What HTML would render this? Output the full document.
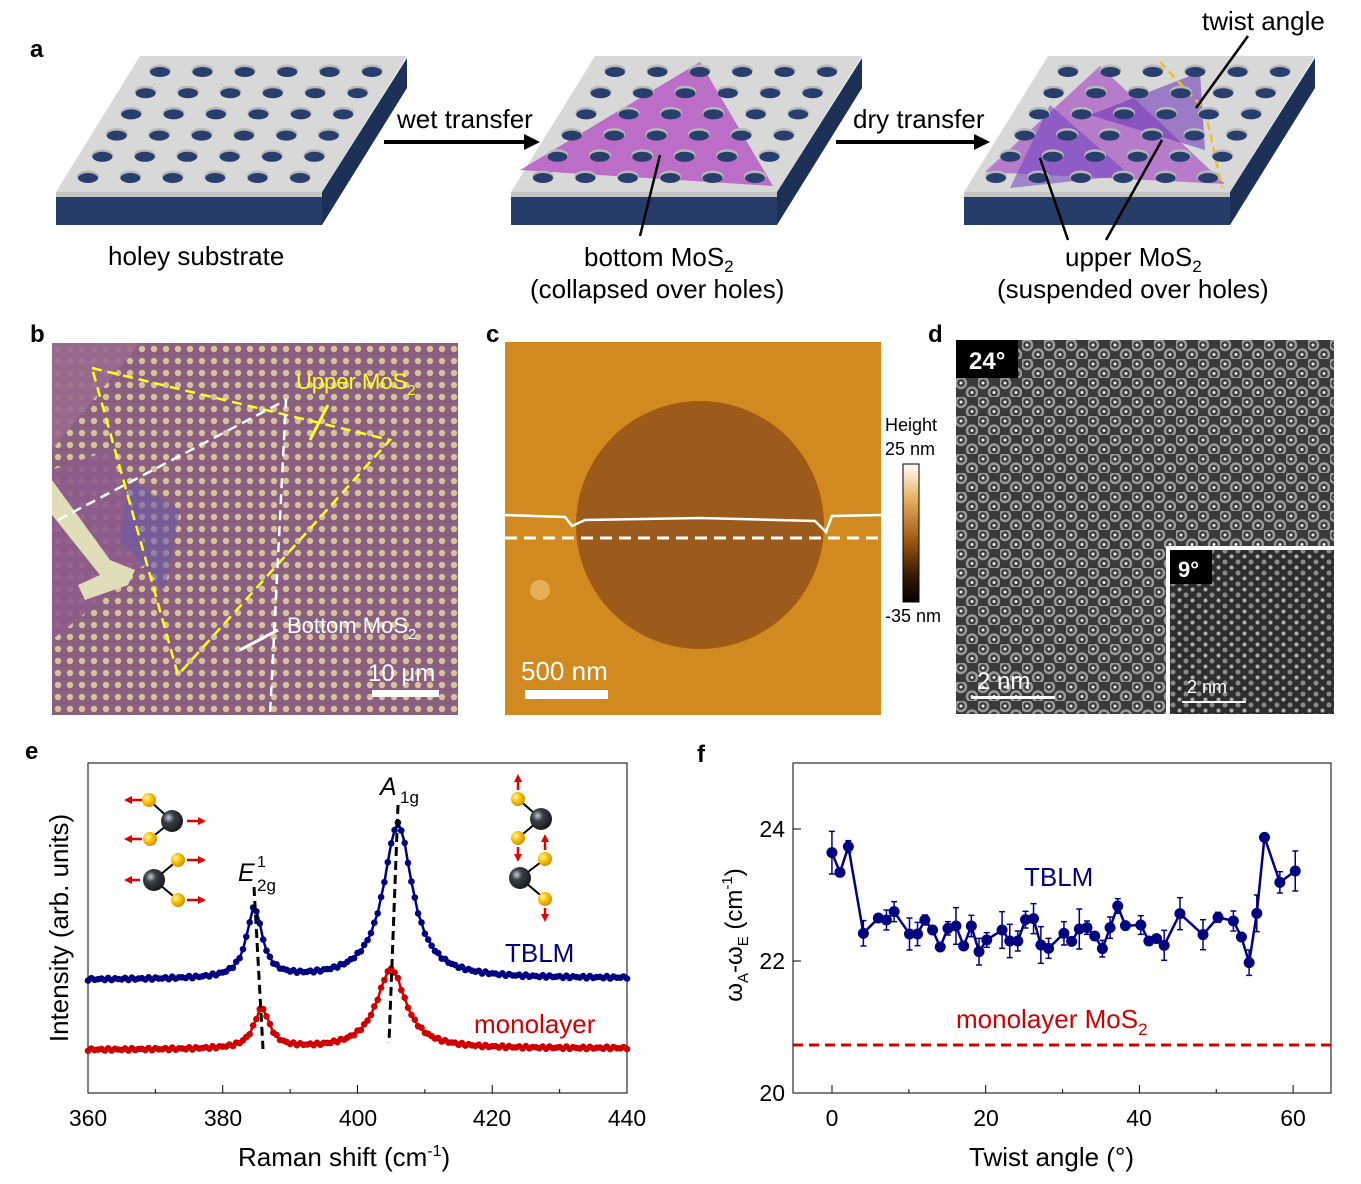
<!DOCTYPE html>
<html><head><meta charset="utf-8">
<style>
html,body{margin:0;padding:0;background:#fff;}
svg{display:block;font-family:"Liberation Sans",sans-serif;}
</style></head><body>
<svg id="s" width="1361" height="1184" viewBox="0 0 1361 1184" xmlns="http://www.w3.org/2000/svg">
<defs>
<radialGradient id="gy" cx="0.35" cy="0.35" r="0.7"><stop offset="0" stop-color="#fff3a0"/><stop offset="0.5" stop-color="#f8c000"/><stop offset="1" stop-color="#d08a00"/></radialGradient>
<radialGradient id="gk" cx="0.35" cy="0.35" r="0.7"><stop offset="0" stop-color="#c8ccd4"/><stop offset="0.35" stop-color="#3a3f48"/><stop offset="1" stop-color="#15181c"/></radialGradient>
<linearGradient id="cb" x1="0" y1="0" x2="0" y2="1"><stop offset="0" stop-color="#ffffff"/><stop offset="0.25" stop-color="#e8b060"/><stop offset="0.55" stop-color="#a05a10"/><stop offset="0.8" stop-color="#3a1a00"/><stop offset="1" stop-color="#000"/></linearGradient>
<pattern id="pb" x="52" y="343" width="12" height="12" patternUnits="userSpaceOnUse"><rect width="12" height="12" fill="#8a5f80"/><circle cx="6" cy="6" r="3.2" fill="#d8c49a"/></pattern>
<pattern id="pd" x="956" y="340" width="22" height="19" patternUnits="userSpaceOnUse"><rect width="22" height="19" fill="#3a3a3a"/><circle cx="5" cy="5" r="5" fill="none" stroke="#9a9a9a" stroke-width="2.5"/><circle cx="16" cy="14.5" r="5" fill="none" stroke="#9a9a9a" stroke-width="2.5"/><circle cx="5" cy="5" r="1.5" fill="#eee"/><circle cx="16" cy="14.5" r="1.5" fill="#eee"/></pattern>
<pattern id="pd2" x="1170" y="548" width="13" height="11" patternUnits="userSpaceOnUse"><rect width="13" height="11" fill="#2e2e2e"/><circle cx="3" cy="3" r="2.5" fill="#8a8a8a"/><circle cx="9.5" cy="8.5" r="2" fill="#b0b0b0"/></pattern>
</defs>
<g id="slabs"></g>
<!-- panel a text -->
<text x="30" y="57" font-size="24" font-weight="bold">a</text>
<text x="108" y="265" font-size="26">holey substrate</text>
<text x="397" y="128" font-size="26">wet transfer</text>
<line x1="384" y1="142" x2="528" y2="142" stroke="#000" stroke-width="4"/><polygon points="540,142 524,134 524,150" fill="#000"/>
<text x="853" y="128" font-size="26">dry transfer</text>
<line x1="836" y1="142" x2="978" y2="142" stroke="#000" stroke-width="4"/><polygon points="990,142 974,134 974,150" fill="#000"/>
<text x="584" y="266" font-size="26">bottom MoS<tspan font-size="17" dy="6">2</tspan></text>
<text x="530" y="298" font-size="26">(collapsed over holes)</text>
<text x="1065" y="266" font-size="26">upper MoS<tspan font-size="17" dy="6">2</tspan></text>
<text x="997" y="298" font-size="26">(suspended over holes)</text>
<text x="1202" y="30" font-size="26">twist angle</text>
<line x1="660" y1="155" x2="640" y2="236" stroke="#000" stroke-width="2.5"/>
<line x1="1040" y1="158" x2="1068" y2="240" stroke="#000" stroke-width="2.5"/>
<line x1="1162" y1="140" x2="1106" y2="240" stroke="#000" stroke-width="2.5"/>
<line x1="1248" y1="36" x2="1196" y2="108" stroke="#000" stroke-width="2.5"/>

<!-- panel b -->
<text x="30" y="342" font-size="24" font-weight="bold">b</text>
<rect x="52" y="343" width="406" height="372" fill="url(#pb)"/>
<polygon points="52,343 140,343 52,450" fill="#9a6a8e" opacity="0.9"/>
<polygon points="52,470 110,450 150,560 52,640" fill="#8e5c8c" opacity="0.9"/>
<polygon points="130,480 180,510 165,590 120,540" fill="#6a5aa8" opacity="0.6"/>
<path d="M52,480 L110,560 L135,570 L128,585 L85,600 L78,585 L100,575 L52,515 Z" fill="#e0ddb8"/>
<polygon points="92,368 390,440 178,675" fill="none" stroke="#ffff20" stroke-width="2.5" stroke-dasharray="10,6"/>
<polyline points="58,520 286,400 270,715" fill="none" stroke="#fff" stroke-width="2.5" stroke-dasharray="10,6"/>
<line x1="310" y1="440" x2="328" y2="405" stroke="#ffff20" stroke-width="3"/>
<line x1="240" y1="650" x2="278" y2="630" stroke="#fff" stroke-width="3"/>
<text x="296" y="389" font-size="22" fill="#ffff20">Upper MoS<tspan font-size="15" dy="6">2</tspan></text>
<text x="287" y="633" font-size="22" fill="#fff">Bottom MoS<tspan font-size="15" dy="6">2</tspan></text>
<text x="368" y="681" font-size="24" fill="#fff">10 μm</text>
<rect x="372" y="690" width="67" height="7" fill="#fff"/>

<!-- panel c -->
<text x="486" y="342" font-size="24" font-weight="bold">c</text>
<rect x="505" y="342" width="376" height="373" fill="#d08a20"/>
<circle cx="700" cy="525" r="124" fill="#a05a18"/>
<circle cx="700" cy="525" r="118" fill="#9a5a22" opacity="0.6"/>
<path d="M505,515 L565,517 L572,526 L585,520 L700,518 L815,521 L826,532 L832,516 L881,515" fill="none" stroke="#fff" stroke-width="2.5"/>
<line x1="505" y1="538" x2="881" y2="538" stroke="#fff" stroke-width="3" stroke-dasharray="12,7"/>
<circle cx="540" cy="590" r="10" fill="#f0c070" opacity="0.7"/>
<text x="521" y="680" font-size="26" fill="#fff">500 nm</text>
<rect x="525" y="690" width="83" height="9" fill="#fff"/>
<text x="885" y="431" font-size="18">Height</text>
<text x="885" y="455" font-size="18">25 nm</text>
<rect x="903" y="464" width="16" height="138" fill="url(#cb)" stroke="#000" stroke-width="1"/>
<text x="885" y="622" font-size="18">-35 nm</text>

<!-- panel d -->
<text x="928" y="342" font-size="24" font-weight="bold">d</text>
<rect x="956" y="340" width="378" height="374" fill="url(#pd)"/>
<rect x="956" y="340" width="62" height="38" fill="#000"/>
<text x="969" y="369" font-size="24" font-weight="bold" fill="#fff">24°</text>
<text x="977" y="689" font-size="24" fill="#fff">2 nm</text>
<rect x="971" y="696" width="84" height="3" fill="#fff"/>
<rect x="1166" y="546" width="170" height="170" fill="#fff"/>
<rect x="1170" y="550" width="164" height="164" fill="url(#pd2)"/>
<rect x="1170" y="550" width="42" height="34" fill="#000"/>
<text x="1178" y="577" font-size="22" font-weight="bold" fill="#fff">9°</text>
<text x="1187" y="693" font-size="18" fill="#fff">2 nm</text>
<rect x="1182" y="701" width="64" height="2" fill="#fff"/>

<!-- panel e -->
<text x="25" y="759" font-size="24" font-weight="bold">e</text>
<rect x="88" y="763" width="539" height="330" fill="none" stroke="#000" stroke-width="1"/>
<g id="eax"></g>
<g id="espec"></g>
<line x1="254" y1="887" x2="263" y2="1049" stroke="#000" stroke-width="3" stroke-dasharray="9,5"/>
<line x1="398" y1="805" x2="389" y2="1043" stroke="#000" stroke-width="3" stroke-dasharray="9,5"/>
<text x="238" y="881" font-size="25" font-style="italic">E</text>
<text x="257" y="867" font-size="16">1</text>
<text x="257" y="891" font-size="17">2g</text>
<text x="380" y="795" font-size="25" font-style="italic">A</text>
<text x="400" y="803" font-size="17">1g</text>
<text x="505" y="962" font-size="26" fill="#000080">TBLM</text>
<text x="474" y="1033" font-size="26" fill="#d00000">monolayer</text>
<g id="mol"></g>
<text x="88" y="1126" font-size="23" text-anchor="middle">360</text>
<text x="223" y="1126" font-size="23" text-anchor="middle">380</text>
<text x="358" y="1126" font-size="23" text-anchor="middle">400</text>
<text x="492" y="1126" font-size="23" text-anchor="middle">420</text>
<text x="627" y="1126" font-size="23" text-anchor="middle">440</text>
<text x="238" y="1166" font-size="26">Raman shift (cm<tspan font-size="16" dy="-10">-1</tspan><tspan dy="10">)</tspan></text>
<text transform="translate(68,928) rotate(-90)" font-size="26" text-anchor="middle">Intensity (arb. units)</text>

<!-- panel f -->
<text x="697" y="762" font-size="24" font-weight="bold">f</text>
<rect x="793" y="763" width="538" height="330" fill="none" stroke="#000" stroke-width="1"/>
<g id="fax"></g>
<line x1="793" y1="1045" x2="1331" y2="1045" stroke="#d00000" stroke-width="3" stroke-dasharray="10,6"/>
<text x="1024" y="886" font-size="26" fill="#000080">TBLM</text>
<text x="956" y="1028" font-size="26" fill="#d00000">monolayer MoS<tspan font-size="17" dy="7">2</tspan></text>
<g id="fdata"></g>
<text x="785" y="837" font-size="23" text-anchor="end">24</text>
<text x="785" y="969" font-size="23" text-anchor="end">22</text>
<text x="785" y="1101" font-size="23" text-anchor="end">20</text>
<text x="832" y="1126" font-size="23" text-anchor="middle">0</text>
<text x="986" y="1126" font-size="23" text-anchor="middle">20</text>
<text x="1139" y="1126" font-size="23" text-anchor="middle">40</text>
<text x="1293" y="1126" font-size="23" text-anchor="middle">60</text>
<text x="969" y="1166" font-size="26">Twist angle (°)</text>
<text transform="translate(742,935) rotate(-90)" font-size="24" text-anchor="middle">ω<tspan font-size="15" dy="6">A</tspan><tspan dy="-6">-ω</tspan><tspan font-size="15" dy="6">E</tspan><tspan dy="-6"> (cm</tspan><tspan font-size="15" dy="-10">-1</tspan><tspan dy="10">)</tspan></text>
</svg>
<script>
var NS="http://www.w3.org/2000/svg";
function el(p,t,a){var e=document.createElementNS(NS,t);for(var k in a)e.setAttribute(k,a[k]);document.getElementById(p).appendChild(e);return e;}
[0,455,908].forEach(function(o,i){
 el("slabs","polygon",{points:(56+o)+",192 "+(322+o)+",192 "+(322+o)+",225 "+(56+o)+",225",fill:"#263d6a"});
 el("slabs","polygon",{points:(322+o)+",192 "+(407+o)+",58 "+(407+o)+",88 "+(322+o)+",225",fill:"#1c3058"});
 el("slabs","polygon",{points:(140+o)+",56 "+(407+o)+",56 "+(322+o)+",192 "+(56+o)+",192",fill:"#d8d8d8"});
 el("slabs","polygon",{points:(56+o)+",192 "+(322+o)+",192 "+(322+o)+",197 "+(56+o)+",197",fill:"#c4c4c4"});
 if(i==1) el("slabs","polygon",{points:(700-455+o)+",62 "+(773-455+o)+",186 "+(520-455+o)+",170",fill:"#b040c0",opacity:0.7});
 if(i==2){
  el("slabs","polygon",{points:"1100,66 1225,184 985,172",fill:"#a040c0",opacity:0.6});
  el("slabs","polygon",{points:"1050,105 1130,175 1010,188",fill:"#7040c0",opacity:0.55});
  el("slabs","polygon",{points:"1090,115 1200,72 1205,150",fill:"#6a30b8",opacity:0.55});
  el("slabs","polyline",{points:"1160,62 1205,110 1222,188",fill:"none",stroke:"#f0c020","stroke-width":2.5,"stroke-dasharray":"8,5"});
 }
 for(var r=0;r<6;r++)for(var c=0;c<6;c++){
  var x=160+o+c*42.4-r*14.4, y=72+r*21.2;
  el("slabs","ellipse",{cx:x,cy:y-1.5,rx:11,ry:6,fill:"#b8b8b8"});
  el("slabs","ellipse",{cx:x,cy:y,rx:10,ry:5,fill:"#283f6e"});
 }
});
for(var v=360;v<=440;v+=10){var x=88+(v-360)*6.7375;el("eax","line",{x1:x,y1:1093,x2:x,y2:v%20==0?1085:1089,stroke:"#000"});}
function lor(x,x0,w){return 1/(1+Math.pow((x-x0)/w,2));}
function spec(base,e0,eh,a0,ah,col,id){
 var pts=[];
 for(var v=360;v<=440;v+=0.5){
  var y=base-eh*lor(v,e0,1.4)-ah*lor(v,a0,2.6)-(v-360)*0.02+(Math.sin(v*7.3)*1.2);
  pts.push((88+(v-360)*6.7375).toFixed(1)+","+y.toFixed(1));
 }
 el(id,"polyline",{points:pts.join(" "),fill:"none",stroke:col,"stroke-width":2.5});
 pts.forEach(function(p){var q=p.split(",");el(id,"circle",{cx:q[0],cy:q[1],r:3.3,fill:col});});
}
spec(980,384.7,70,406,155,"#000080","espec");
spec(1050,385.8,40,405,80,"#d00000","espec");
function mol(mx,my,ys){el("mol","line",{x1:mx,y1:my,x2:ys[0][0],y2:ys[0][1],stroke:"#000","stroke-width":2});el("mol","line",{x1:mx,y1:my,x2:ys[1][0],y2:ys[1][1],stroke:"#000","stroke-width":2});
 ys.forEach(function(p){el("mol","circle",{cx:p[0],cy:p[1],r:7,fill:"url(#gy)"});});el("mol","circle",{cx:mx,cy:my,r:11,fill:"url(#gk)"});}
function arr(x1,y1,x2,y2){el("mol","line",{x1:x1,y1:y1,x2:x2,y2:y2,stroke:"#e00000","stroke-width":2.5});var dx=x2-x1,dy=y2-y1,L=Math.hypot(dx,dy),ux=dx/L,uy=dy/L;
 el("mol","polygon",{points:(x2+ux*4)+","+(y2+uy*4)+" "+(x2-ux*4-uy*4)+","+(y2-uy*4+ux*4)+" "+(x2-ux*4+uy*4)+","+(y2-uy*4-ux*4),fill:"#e00000"});}
mol(172,821,[[149,800],[150,839]]);arr(142,800,128,800);arr(142,839,128,839);arr(187,821,202,821);
mol(154,880,[[178,860],[178,900]]);arr(187,860,202,860);arr(187,900,202,900);arr(140,880,128,880);
mol(541,819,[[518,799],[518,838]]);arr(518,790,518,778);arr(518,847,518,858);
mol(520,878,[[545,859],[545,899]]);arr(545,850,545,838);arr(545,908,545,918);
for(var v=0;v<=60;v+=10){var x=832+v*7.685;el("fax","line",{x1:x,y1:1093,x2:x,y2:v%20==0?1085:1089,stroke:"#000"});}
[829,961,1093].forEach(function(y){el("fax","line",{x1:793,y1:y,x2:801,y2:y,stroke:"#000"});});
var d=[[120,278,64],[143,337,0],[167,260,18],[210,520,38],[253,474,0],[276,480,30],[298,455,30],[342,522,48],[365,522,35],[386,480,15],[408,510,0],[430,561,0],[452,505,20],[475,498,55],[497,558,0],[519,498,32],[541,575,40],[563,540,22],[607,510,55],[629,543,50],[652,543,30],[674,479,25],[697,476,45],[718,555,55],[740,565,30],[784,520,35],[806,544,0],[828,507,60],[850,503,20],[872,528,0],[894,566,25],[916,503,32],[938,438,22],[960,497,0],[1004,495,28],[1027,543,0],[1049,536,10],[1071,556,45],[1116,461,48],[1182,524,45],[1225,472,15],[1269,483,30],[1292,531,0],[1314,608,38],[1336,460,55],[1358,232,0],[1402,367,32],[1446,333,60]];
var fp=d.map(function(p){return [(790+p[0]/2.862),(760+p[1]/3),p[2]/3];});
el("fdata","polyline",{points:fp.map(function(p){return p[0].toFixed(1)+","+p[1].toFixed(1);}).join(" "),fill:"none",stroke:"#000080","stroke-width":2.5});
fp.forEach(function(p){if(p[2]>0){el("fdata","line",{x1:p[0],y1:p[1]-p[2],x2:p[0],y2:p[1]+p[2],stroke:"#000080","stroke-width":1.5});
 el("fdata","line",{x1:p[0]-3,y1:p[1]-p[2],x2:p[0]+3,y2:p[1]-p[2],stroke:"#000080","stroke-width":1.5});el("fdata","line",{x1:p[0]-3,y1:p[1]+p[2],x2:p[0]+3,y2:p[1]+p[2],stroke:"#000080","stroke-width":1.5});}
 el("fdata","circle",{cx:p[0],cy:p[1],r:5.5,fill:"#000080"});});
</script>
</body></html>
